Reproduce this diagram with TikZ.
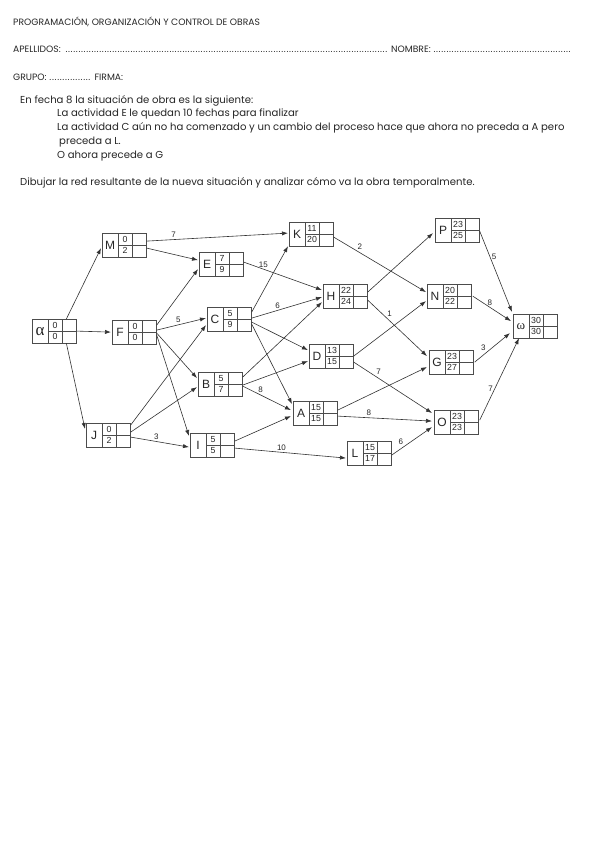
\documentclass[tikz,border=0pt]{standalone}
\usepackage{fontspec}
\setmainfont{Poppins}
\newfontfamily\boxfont{Liberation Sans}
\newfontfamily\greekfont{Liberation Serif}
\usetikzlibrary{arrows.meta,calc}
\newcommand\mydots{\leaders\hbox to 2.6pt{\hss.\hss}\hfill}
\newcommand\actbox[6]{%
  \node[actnode] (#1) at (#2,#3) {};
  \draw[boxline] ($(#1.north west)+(16,0)$) -- ($(#1.south west)+(16,0)$)
    ($(#1.north west)+(30,0)$) -- ($(#1.south west)+(30,0)$)
    ($(#1.west)+(16,0)$) -- (#1.east);
  \node[boxletter] at ($(#1.west)+(8,0)$) {#4};
  \node[boxnum] at ($(#1.west)+(23,-5.8)$) {#5};
  \node[boxnum] at ($(#1.west)+(23,5.8)$) {#6};
}
\tikzset{
  actnode/.style={rectangle, draw=black!70, line width=0.7pt, minimum width=44pt,
    minimum height=23.5pt, inner sep=0pt, anchor=north west},
  boxline/.style={draw=black!70, line width=0.6pt},
  boxletter/.style={font=\boxfont\fontsize{12}{12}\selectfont, text=black!85, inner sep=0pt},
  boxnum/.style={font=\boxfont\fontsize{8.8}{9}\selectfont, text=black!85, inner sep=0pt},
  edge/.style={draw=black!80, line width=0.6pt, -{Latex[length=6pt,width=4.2pt]}},
  lbl/.style={font=\boxfont\fontsize{8}{8}\selectfont, text=black!85, inner sep=1.5pt},
  hdr/.style={font=\fontsize{9.2}{10}\selectfont, text=black!85, inner sep=0pt, anchor=base west},
  body/.style={font=\fontsize{10.1}{11}\selectfont, text=black!85, inner sep=0pt, anchor=base west},
}
\begin{document}
\begin{tikzpicture}[x=1pt,y=-1pt]
\useasboundingbox (0,0) rectangle (600,848);
\fill[white] (0,0) rectangle (600,848);

% header
\node[hdr] (title) at (13,26) {PROGRAMACIÓN, ORGANIZACIÓN Y CONTROL DE OBRAS};
\node[hdr] (apellidos) at (13,53) {\hbox to 378pt{APELLIDOS: \mydots\ }NOMBRE: \hbox to 138pt{\mydots}};
\node[hdr] (grupo) at (13,81) {GRUPO: \hbox to 43pt{\mydots} FIRMA:};
\node[body] (t1) at (20,104) {En fecha 8 la situación de obra es la siguiente:};
\node[body] (t2) at (57,117) {La actividad E le quedan 10 fechas para finalizar};
\node[body] (t3) at (57,131) {La actividad C aún no ha comenzado y un cambio del proceso hace que ahora no preceda a A pero};
\node[body] (t4) at (59,144) {preceda a L.};
\node[body] (t5) at (57,158) {O ahora precede a G};
\node[body] (t6) at (20,185) {Dibujar la red resultante de la nueva situación y analizar cómo va la obra temporalmente.};

% boxes
\actbox{alpha}{32}{319}{\greekfont\fontsize{17}{17}\selectfont α}{0}{0}
\actbox{M}{102}{233}{M}{0}{2}
\actbox{F}{112}{320}{F}{0}{0}
\actbox{E}{199}{252}{E}{7}{9}
\actbox{K}{289}{222}{K}{11}{20}
\actbox{C}{207}{307}{C}{5}{9}
\actbox{H}{323}{284}{H}{22}{24}
\actbox{D}{309}{344}{D}{13}{15}
\actbox{P}{435}{218}{P}{23}{25}
\actbox{N}{427}{284}{N}{20}{22}
\actbox{omega}{513}{314}{\greekfont\fontsize{13}{13}\selectfont ω}{30}{30}
\actbox{G}{429}{350}{G}{23}{27}
\actbox{O}{434}{410}{O}{23}{23}
\actbox{B}{198}{372}{B}{5}{7}
\actbox{A}{293}{401}{A}{15}{15}
\actbox{J}{86}{423}{J}{0}{2}
\actbox{I}{190}{433}{I}{5}{5}
\actbox{L}{347}{441}{L}{15}{17}

% edges
\draw[edge] ($(alpha.north)+(12,0)$) -- ($(M.west)+(-1,3)$);
\draw[edge] (alpha.east) -- ($(F.west)+(-1,0)$);
\draw[edge] ($(alpha.south)+(12,0)$) -- ($(J.north west)+(-1,6)$);
\draw[edge] ($(M.east)+(0,-4)$) -- node[lbl,pos=.19,above] {7} ($(K.west)+(-1,-1)$);
\draw[edge] ($(M.east)+(0,3)$) -- ($(E.west)+(-1,-4)$);
\draw[edge] ($(F.east)+(0,-7)$) -- ($(E.west)+(-1,5)$);
\draw[edge] ($(F.east)+(0,-2)$) -- node[lbl,pos=.44,above] {5} ($(C.west)+(-1,-1)$);
\draw[edge] ($(F.east)+(0,1)$) -- ($(B.west)+(-1,-6)$);
\draw[edge] ($(F.east)+(0,3)$) -- ($(I.north west)+(-1,3)$);
\draw[edge] ($(J.north east)+(0,2)$) -- ($(C.west)+(-1,6)$);
\draw[edge] ($(J.east)+(0,-3)$) -- ($(B.west)+(-1,3)$);
\draw[edge] ($(J.east)+(0,2)$) -- node[lbl,pos=.44,above] {3} ($(I.west)+(-1,2)$);
\draw[edge] ($(E.east)+(0,-2)$) -- node[lbl,pos=.25,above] {15} ($(H.west)+(-1,-6)$);
\draw[edge] ($(C.east)+(0,-7)$) -- ($(K.south west)+(-1,0)$);
\draw[edge] ($(C.east)+(0,-1)$) -- node[lbl,pos=.37,above] {6} ($(H.west)+(-1,1)$);
\draw[edge] ($(C.east)+(0,3)$) -- ($(D.west)+(-1,-6)$);
\draw[edge] ($(C.east)+(0,5)$) -- ($(A.north west)+(-1,3)$);
\draw[edge] ($(B.east)+(0,-7)$) -- ($(H.west)+(-1,6)$);
\draw[edge] ($(B.east)+(0,1)$) -- ($(D.west)+(-1,5)$);
\draw[edge] ($(B.east)+(0,2)$) -- node[lbl,pos=.35,anchor=south west,xshift=-3pt] {8} ($(A.west)+(-2,-3)$);
\draw[edge] ($(I.east)+(0,-4)$) -- ($(A.west)+(-2,3)$);
\draw[edge] ($(I.east)+(0,3)$) -- node[lbl,pos=.42,above] {10} ($(L.west)+(-1,5)$);
\draw[edge] ($(K.east)+(0,3)$) -- node[lbl,pos=.26,anchor=south west,xshift=-2pt] {2} ($(N.west)+(-1,-4)$);
\draw[edge] ($(H.east)+(0,-4)$) -- ($(P.west)+(-2,3)$);
\draw[edge] ($(H.east)+(0,4)$) -- node[lbl,pos=.32,anchor=south west,xshift=-1pt] {1} ($(G.west)+(-2,-6)$);
\draw[edge] (D.east) -- ($(N.west)+(-1,5)$);
\draw[edge] ($(D.east)+(0,6)$) -- node[lbl,pos=.28,anchor=south west,xshift=-1pt] {7} ($(O.north west)+(-2,3)$);
\draw[edge] ($(A.east)+(0,-3)$) -- ($(G.west)+(-2,5)$);
\draw[edge] ($(A.east)+(0,3)$) -- node[lbl,pos=.33,above] {8} ($(O.west)+(-2,-1)$);
\draw[edge] ($(L.east)+(0,2)$) -- node[lbl,pos=.3,anchor=south east,xshift=1pt] {6} ($(O.west)+(-2,5)$);
\draw[edge] ($(P.east)+(0,1)$) -- node[lbl,pos=.32,right] {5} ($(omega.north west)+(-1,-2)$);
\draw[edge] ($(N.east)+(1,0)$) -- node[lbl,pos=.45,above] {8} ($(omega.west)+(-2,-5)$);
\draw[edge] ($(G.east)+(1,0)$) -- node[lbl,pos=.33,anchor=south east,xshift=1pt] {3} ($(omega.west)+(-3,7)$);
\draw[edge] ($(O.east)+(1,-2)$) -- node[lbl,pos=.38,left=0pt] {7} ($(omega.south west)+(6,0)$);
\end{tikzpicture}
\end{document}
